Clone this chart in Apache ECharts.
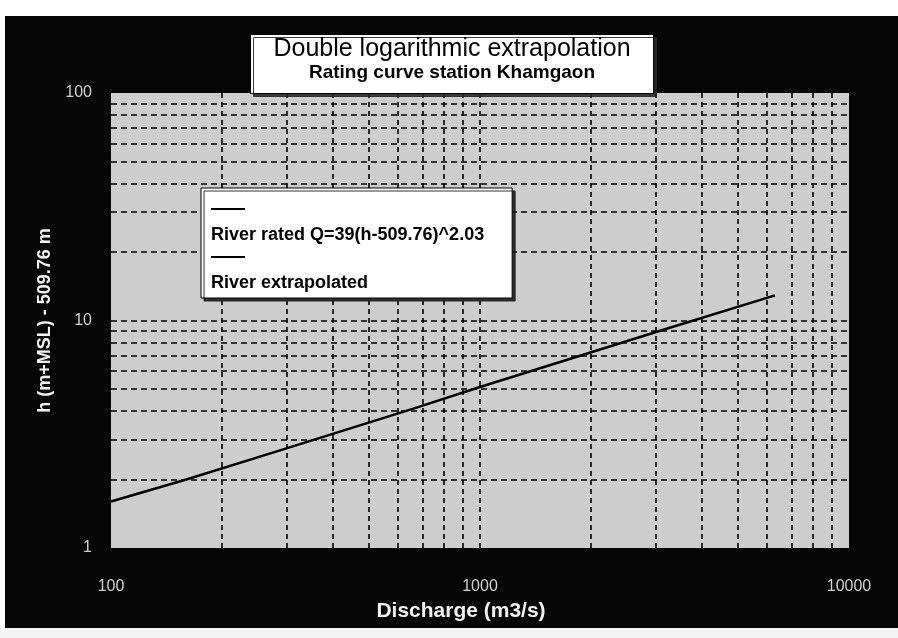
<!DOCTYPE html>
<html><head><meta charset="utf-8">
<script src="https://cdn.jsdelivr.net/npm/echarts@6/dist/echarts.min.js"></script>
<style>html,body{margin:0;padding:0;background:#fff}#c{width:898px;height:638px}</style>
</head><body><div id="c"></div>
<script>
// ---- data ----
const titleText = 'Double logarithmic extrapolation';
const subTitleText = 'Rating curve station Khamgaon';
const xName = 'Discharge (m3/s)';
const yName = 'h (m+MSL) - 509.76 m';
const seriesNames = ['River rated Q=39(h-509.76)^2.03', 'River extrapolated'];
const ratedQ = [100, 160, 290, 660, 1000, 3000];
const ratedH = [1.6, 2.0, 2.7, 4.1, 5.1, 8.9];
const extrapQ = [3000, 6300];
const extrapH = [8.9, 12.9];
const xTickLabels = ['100', '1000', '10000'];
const yTickLabels = ['1', '10', '100'];
const minorX = [200, 300, 400, 500, 600, 700, 800, 900, 2000, 3000, 4000, 5000, 6000, 7000, 8000, 9000];
const minorY = [2, 3, 4, 5, 6, 7, 8, 9, 20, 30, 40, 50, 60, 70, 80, 90];

// ---- chart ----
const FONT = '"Liberation Sans", Arial, sans-serif';
const chart = echarts.init(document.getElementById('c'), null, {renderer: 'canvas'});
const gridDash = {color: '#000', width: 1.6, type: [6, 4]};
function labelFor(list) {
  return function (v) {
    for (let i = 0; i < list.length; i++) { if (Math.abs(Number(list[i]) - v) < 1e-6 * Number(list[i])) return list[i]; }
    return '';
  };
}
const option = {
  backgroundColor: '#060606',
  animation: false,
  graphic: {elements: [
    {type: 'rect', shape: {x: 0, y: 0, width: 898, height: 16}, style: {fill: '#fff'}, silent: true},
    {type: 'rect', shape: {x: 0, y: 0, width: 5, height: 638}, style: {fill: '#fff'}, silent: true},
    {type: 'rect', shape: {x: 0, y: 628, width: 898, height: 10}, style: {fill: '#f4f4f4'}, silent: true}
  ]},
  title: {
    text: titleText, subtext: subTitleText, z: 20,
    left: 429, top: 34, textAlign: 'center',
    padding: [2, 23, 10, 23], itemGap: 0,
    backgroundColor: '#fff', borderColor: '#000', borderWidth: 1,
    shadowColor: 'rgba(40,40,40,0.9)', shadowOffsetX: 3, shadowOffsetY: 3, shadowBlur: 0,
    textStyle: {fontFamily: FONT, fontSize: 25, fontWeight: 'normal', color: '#000', lineHeight: 26},
    subtextStyle: {fontFamily: FONT, fontSize: 19, fontWeight: 'bold', color: '#000', lineHeight: 22}
  },
  legend: {
    orient: 'vertical', left: 201, top: 188, z: 20,
    data: seriesNames,
    itemWidth: 0, itemHeight: 0, itemGap: 7,
    padding: [15, 28, 6, 4],
    backgroundColor: '#fff', borderColor: '#000', borderWidth: 1,
    shadowColor: 'rgba(30,30,30,0.9)', shadowOffsetX: 3, shadowOffsetY: 3, shadowBlur: 0,
    selectedMode: false,
    formatter: function (n) { return '{ln| }\n{t|' + n + '}'; },
    textStyle: {
      fontFamily: FONT, color: '#000',
      rich: {
        ln: {width: 34, height: 2, backgroundColor: '#000', lineHeight: 26},
        t: {fontFamily: FONT, fontSize: 18, fontWeight: 'bold', color: '#000', lineHeight: 26}
      }
    }
  },
  grid: {left: 111, right: 49, top: 93, bottom: 90, show: true, backgroundColor: '#cdcdcd', borderWidth: 0},
  xAxis: {
    type: 'log', logBase: 10, min: Number(xTickLabels[0]), max: Number(xTickLabels[xTickLabels.length - 1]),
    name: xName, nameLocation: 'middle', nameGap: 53,
    nameTextStyle: {fontFamily: FONT, fontSize: 21, fontWeight: 'bold', color: '#f2f2f2', padding: [0, 38, 0, 0]},
    axisLine: {show: false}, axisTick: {show: false},
    axisLabel: {margin: 31, fontFamily: FONT, fontSize: 16, color: '#d0d0d0', formatter: labelFor(xTickLabels)},
    splitLine: {show: true, showMinLine: false, showMaxLine: false, lineStyle: {color: '#000', width: 1.6, type: [5, 4]}}
  },
  yAxis: {
    type: 'log', logBase: 10, min: Number(yTickLabels[0]), max: Number(yTickLabels[yTickLabels.length - 1]),
    name: yName, nameLocation: 'middle', nameGap: 56,
    nameTextStyle: {fontFamily: FONT, fontSize: 18, fontWeight: 'bold', color: '#f2f2f2'},
    axisLine: {show: false}, axisTick: {show: false},
    axisLabel: {margin: 19, fontFamily: FONT, fontSize: 16, color: '#d0d0d0', formatter: labelFor(yTickLabels)},
    splitLine: {show: true, showMinLine: false, showMaxLine: false, lineStyle: gridDash}
  },
  series: [
    {
      name: 'minor grid', type: 'line', data: [], z: 1, silent: true,
      markLine: {
        silent: true, symbol: 'none', label: {show: false}, animation: false,
        lineStyle: {color: '#000', width: 1.6, type: [6, 4]},
        data: minorX.map(v => ({xAxis: v, lineStyle: {type: [5, 4]}})).concat(minorY.map(v => ({yAxis: v})))
      }
    },
    {
      name: seriesNames[0], type: 'line', z: 5, symbol: 'none',
      data: ratedQ.map((q, i) => [q, ratedH[i]]),
      lineStyle: {color: '#000', width: 2.5}, itemStyle: {color: '#000'}
    },
    {
      name: seriesNames[1], type: 'line', z: 5, symbol: 'none',
      data: extrapQ.map((q, i) => [q, extrapH[i]]),
      lineStyle: {color: '#000', width: 2.5}, itemStyle: {color: '#000'}
    }
  ]
};
chart.setOption(option);
</script>
</body></html>
